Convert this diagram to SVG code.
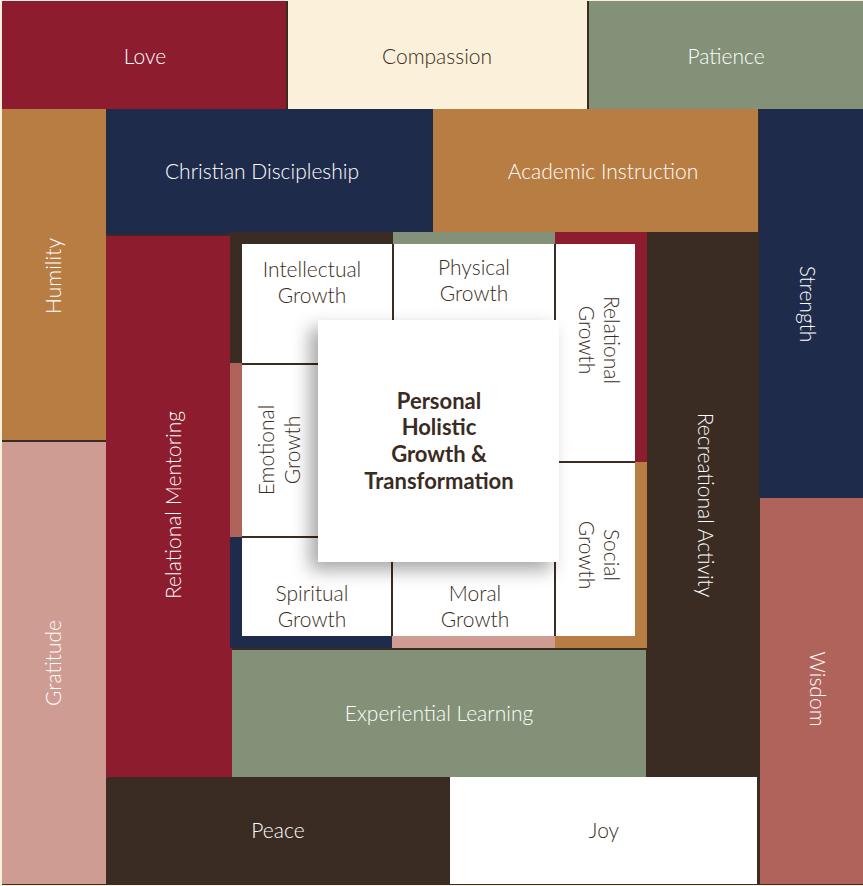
<svg xmlns="http://www.w3.org/2000/svg" width="863" height="886" viewBox="0 0 863 886">
<style>
text{font-family:Lato,"Noto Sans","Liberation Sans",sans-serif;font-size:21px;font-weight:300;text-anchor:middle;dominant-baseline:central}
.w{fill:#ffffff}
.d{fill:#3a2c23}
.i{font-size:21px}
.b{font-weight:bold;font-size:22px}
.ln{stroke:#3a2c23;stroke-width:2;fill:none}
</style>
<defs>
<filter id="sh" x="-30%" y="-30%" width="160%" height="160%">
<feDropShadow dx="-8" dy="8" stdDeviation="9" flood-color="#000" flood-opacity="0.35"/>
</filter>
</defs>
<rect x="0" y="0" width="863" height="886" fill="#fbf0d9"/>
<rect x="2" y="1" width="861" height="884" fill="#3a2c23"/>
<g id="love"><rect x="2" y="1" width="284" height="108" fill="#8c1c2e"/><text class="w" x="145" y="55">Love</text></g>
<g id="compassion"><rect x="288" y="1" width="299" height="108" fill="#fbf0d9"/><text class="d" x="437" y="55">Compassion</text></g>
<g id="patience"><rect x="589" y="1" width="274" height="108" fill="#829177"/><text class="w" x="726" y="55">Patience</text></g>
<g id="humility"><rect x="2" y="109" width="104" height="331" fill="#b87d42"/><text class="w" transform="translate(52,276) rotate(-90)">Humility</text></g>
<g id="christian-discipleship"><rect x="106" y="109" width="327" height="125" fill="#1f2b4b"/><text class="w" x="262" y="170">Christian Discipleship</text></g>
<g id="academic-instruction"><rect x="433" y="109" width="325" height="123" fill="#b87d42"/><text class="w" x="603" y="170">Academic Instruction</text></g>
<g id="strength"><rect x="759" y="109" width="104" height="389" fill="#1f2b4b"/><text class="w" transform="translate(808,304) rotate(90)">Strength</text></g>
<g id="gratitude"><rect x="2" y="442" width="104" height="442" fill="#cf9c93"/><text class="w" transform="translate(52,663) rotate(-90)">Gratitude</text></g>
<g id="relational-mentoring"><rect x="106" y="236" width="126" height="542" fill="#8c1c2e"/><text class="w" transform="translate(172,505) rotate(-90)">Relational Mentoring</text></g>
<g id="recreational-activity"><rect x="646" y="232" width="113" height="545" fill="#3a2c23"/><text class="w" transform="translate(706,505) rotate(90)">Recreational Activity</text></g>
<g id="wisdom"><rect x="760" y="498" width="103" height="386" fill="#b0635b"/><text class="w" transform="translate(818,689) rotate(90)">Wisdom</text></g>
<g id="experiential-learning"><rect x="232" y="650" width="414" height="127" fill="#829177"/><text class="w" x="439" y="712">Experiential Learning</text></g>
<g id="peace"><rect x="108" y="777" width="342" height="107" fill="#3a2c23"/><text class="w" x="278" y="829">Peace</text></g>
<g id="joy"><rect x="450" y="777" width="307" height="107" fill="#ffffff"/><text class="d" x="604" y="829">Joy</text></g>

<g id="inner-frame">
<rect x="230" y="232" width="163" height="12" fill="#3a2c23"/>
<rect x="393" y="232" width="162" height="12" fill="#829177"/>
<rect x="555" y="232" width="92" height="12" fill="#8c1c2e"/>
<rect x="230" y="232" width="12" height="131" fill="#3a2c23"/>
<rect x="230" y="363" width="12" height="174" fill="#b0635b"/>
<rect x="230" y="537" width="12" height="111" fill="#1f2b4b"/>
<rect x="635" y="232" width="12" height="230" fill="#8c1c2e"/>
<rect x="635" y="462" width="12" height="186" fill="#b87d42"/>
<rect x="230" y="636" width="162" height="12" fill="#1f2b4b"/>
<rect x="392" y="636" width="163" height="12" fill="#cf9c93"/>
<rect x="555" y="636" width="92" height="12" fill="#b87d42"/>
</g>
<g id="inner-white"><rect x="242" y="244" width="393" height="392" fill="#ffffff"/></g>
<g id="connectors">
<line class="ln" x1="393" y1="244" x2="393" y2="322"/>
<line class="ln" x1="555" y1="244" x2="555" y2="322"/>
<line class="ln" x1="242" y1="364" x2="320" y2="364"/>
<line class="ln" x1="242" y1="537" x2="320" y2="537"/>
<line class="ln" x1="392" y1="560" x2="392" y2="636"/>
<line class="ln" x1="555" y1="560" x2="555" y2="636"/>
<line class="ln" x1="556" y1="462" x2="635" y2="462"/>
</g>
<g id="intellectual-growth"><text class="d i" x="312" y="268">Intellectual</text><text class="d i" x="312" y="294">Growth</text></g>
<g id="physical-growth"><text class="d i" x="474" y="266">Physical</text><text class="d i" x="474" y="292">Growth</text></g>
<g id="relational-growth"><text class="d i" transform="translate(612,340) rotate(90)">Relational</text><text class="d i" transform="translate(587,340) rotate(90)">Growth</text></g>
<g id="emotional-growth"><text class="d i" transform="translate(265,450) rotate(-90)">Emotional</text><text class="d i" transform="translate(291,450) rotate(-90)">Growth</text></g>
<g id="social-growth"><text class="d i" transform="translate(612,555) rotate(90)">Social</text><text class="d i" transform="translate(587,555) rotate(90)">Growth</text></g>
<g id="spiritual-growth"><text class="d i" x="312" y="592">Spiritual</text><text class="d i" x="312" y="618">Growth</text></g>
<g id="moral-growth"><text class="d i" x="475" y="592">Moral</text><text class="d i" x="475" y="618">Growth</text></g>
<g id="center">
<rect x="318" y="320" width="241" height="242" fill="#ffffff" filter="url(#sh)"/>
<text class="d b" x="439" y="400">Personal</text>
<text class="d b" x="439" y="426">Holistic</text>
<text class="d b" x="439" y="453">Growth &amp;</text>
<text class="d b" x="439" y="480">Transformation</text>
</g>
</svg>
